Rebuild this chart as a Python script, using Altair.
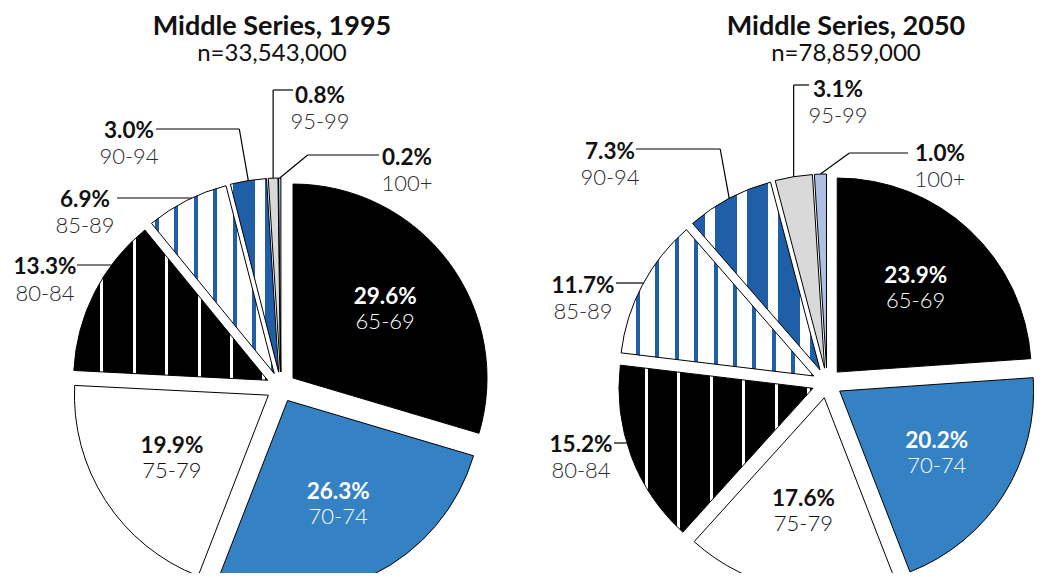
import math
import altair as alt
import pandas as pd

# ---------------- data ----------------
ages = ["65-69", "70-74", "75-79", "80-84", "85-89", "90-94", "95-99", "100+"]
pct_1995 = [29.6, 26.3, 19.9, 13.3, 6.9, 3.0, 0.8, 0.2]
pct_2050 = [23.9, 20.2, 17.6, 15.2, 11.7, 7.3, 3.1, 1.0]
years = ["1995", "2050"]
titles = ["Middle Series, 1995", "Middle Series, 2050"]
totals = ["n=33,543,000", "n=78,859,000"]

# ---------------- layout / style (chart pixels) ----------------
W_CHART, H_CHART = 1026, 565
R = 194          # pie radius
D = 15           # explosion distance
CX = {"1995": 273, "2050": 819}
CY = {"1995": 379, "2050": 375}
TITLE_X = {"1995": 264, "2050": 838}
LABEL_R = 130
FONT = "Lato"

solid_domain = ["65-69", "70-74", "75-79", "95-99", "100+"]
solid_range = ["#000000", "#3481c4", "#ffffff", "#d9d9d9", "#adbfe3"]
DARK_BLUE = "#1f5fa8"

inside_ages = ["65-69", "70-74", "75-79"]
inside_pct_colors = ["#ffffff", "#ffffff", "#111111"]
inside_age_colors = ["#d6d6d6", "#e2ebf5", "#2a2a2a"]

# callout placement (page coords): type, text centre x, pct y, age y, leader y, leader end x, elbow dx
callout_layout = [
    ("1995", "80-84", "h", 45, 267, 294, 265, 77, 0),
    ("1995", "85-89", "h", 85, 200, 226, 198, 117, 0),
    ("1995", "90-94", "v", 129, 131, 157, 129, 156, -9),
    ("1995", "95-99", "v", 320, 96, 122, 90, 293, 0),
    ("1995", "100+", "v", 407, 158, 184, 155, 379, 28),
    ("2050", "80-84", "h", 581, 445, 471, 443, 614, 0),
    ("2050", "85-89", "h", 583, 286, 312, 283, 616, 0),
    ("2050", "90-94", "v", 610, 152, 178, 149, 636, -9),
    ("2050", "95-99", "v", 838, 90, 116, 85, 809, 0),
    ("2050", "100+", "v", 940, 154, 180, 153, 908, 29),
]
OFF = 8
callout_values = [
    {"key": f"{y}|{a}", "ctype": t, "tx": tx - OFF, "py": py - OFF, "ay": ay - OFF,
     "lyy": ly - OFF, "lend": le - OFF, "edx": ed}
    for (y, a, t, tx, py, ay, ly, le, ed) in callout_layout
]

# stripe patterns: (bg, fg, period, line width, anchor x per pie in page coords)
stripe_styles = {
    "80-84": ("#000000", "#ffffff", 32.4, 3.0, {"1995": 68, "2050": 645}),
    "85-89": ("#ffffff", DARK_BLUE, 19.4, 4.0, {"1995": 155, "2050": 636}),
    "90-94": (DARK_BLUE, "#ffffff", 31.7, 10.0, {"1995": 223, "2050": 705}),
}

# ---------------- table ----------------
rows = []
for y, vals in zip(years, [pct_1995, pct_2050]):
    for i, (a, v) in enumerate(zip(ages, vals)):
        rows.append({"year": y, "age": a, "order": i, "pct": v, "key": f"{y}|{a}"})
df = pd.DataFrame(rows)
title_df = pd.DataFrame({"year": years, "title": titles, "total": totals})


def sector_xbounds(vals, idx):
    """x-extent (relative to apex) of a sector, for gradient placement."""
    start = sum(vals[:idx]) / 100 * 360
    end = start + vals[idx] / 100 * 360
    xs = [0.0, math.sin(math.radians(start)), math.sin(math.radians(end))]
    for q in (90, 270):
        if start < q < end:
            xs.append(math.sin(math.radians(q)))
    mid = math.radians((start + end) / 2)
    return min(xs) * R, max(xs) * R, mid


def stripe_gradient(year, vals, idx, style):
    bg, fg, period, lw, anchors = style
    lo, hi, mid = sector_xbounds(vals, idx)
    apex_x = CX[year] + D * math.sin(mid)
    left = apex_x + lo
    width = hi - lo
    x0 = anchors[year] - OFF
    stops = [{"offset": 0, "color": bg}]
    k = math.floor((left - x0) / period) - 1
    while True:
        s = x0 + k * period
        if s > left + width:
            break
        a = (s - left) / width
        b = (s + lw - left) / width
        k += 1
        if b <= 0 or a >= 1:
            continue
        a = max(a, 0.0)
        b = min(b, 1.0)
        stops += [{"offset": a, "color": bg}, {"offset": a, "color": fg},
                  {"offset": b, "color": fg}, {"offset": b, "color": bg}]
    stops.append({"offset": 1, "color": bg})
    return {"gradient": "linear", "x1": 0, "y1": 0, "x2": 1, "y2": 0, "stops": stops}


# ---------------- geometry via Vega-Lite transforms ----------------
base = (
    alt.Chart(df)
    .transform_window(cum="sum(pct)", sort=[alt.SortField("order")], groupby=["year"], frame=[None, 0])
    .transform_calculate(
        t0="(datum.cum - datum.pct) / 100 * 2 * PI",
        t1="datum.cum / 100 * 2 * PI",
    )
    .transform_calculate(mid="(datum.t0 + datum.t1) / 2")
    .transform_calculate(
        cx=f"datum.year == '1995' ? {CX['1995']} : {CX['2050']}",
        cy=f"datum.year == '1995' ? {CY['1995']} : {CY['2050']}",
    )
    .transform_calculate(
        sx=f"datum.cx + {D} * sin(datum.mid)",
        sy=f"datum.cy - {D} * cos(datum.mid)",
        lx=f"datum.cx + {LABEL_R} * sin(datum.mid)",
        lyc=f"datum.cy - {LABEL_R} * cos(datum.mid)",
        pct_text="format(datum.pct, '.1f') + '%'",
    )
    .transform_calculate(
        ox=f"datum.sx + {R} * sin(datum.mid)",
        oy=f"datum.sy - {R} * cos(datum.mid)",
    )
)

X = lambda f: alt.X(f"{f}:Q", scale=None, axis=None)
Y = lambda f: alt.Y(f"{f}:Q", scale=None, axis=None)
X2 = lambda f: alt.X2(f"{f}:Q")
Y2 = lambda f: alt.Y2(f"{f}:Q")

arc_enc = dict(
    x=X("sx"), y=Y("sy"),
    theta=alt.Theta("t0:Q", scale=None), theta2=alt.Theta2("t1:Q"),
)

solid = base.transform_filter(alt.FieldOneOfPredicate(field="age", oneOf=solid_domain)).mark_arc(
    radius=R, stroke="#000000", strokeWidth=1
).encode(
    fill=alt.Fill("age:N", scale=alt.Scale(domain=solid_domain, range=solid_range), legend=None),
    **arc_enc,
)

layers = [solid]
for y, vals in zip(years, [pct_1995, pct_2050]):
    for a, style in stripe_styles.items():
        idx = ages.index(a)
        grad = stripe_gradient(y, vals, idx, style)
        layers.append(
            base.transform_filter(f"datum.year == '{y}' && datum.age == '{a}'")
            .mark_arc(radius=R, stroke="#000000", strokeWidth=1, fill=grad)
            .encode(**arc_enc)
        )

PCT_SIZE = 22.5
AGE_SIZE = 22

inside = base.transform_filter(alt.FieldOneOfPredicate(field="age", oneOf=inside_ages))
layers.append(
    inside.mark_text(font=FONT, fontSize=PCT_SIZE, fontWeight="bold", baseline="middle", align="center", dy=-12)
    .encode(x=X("lx"), y=Y("lyc"), text="pct_text:N",
            color=alt.Color("age:N", scale=alt.Scale(domain=inside_ages, range=inside_pct_colors), legend=None))
)
layers.append(
    inside.mark_text(font=FONT, fontSize=AGE_SIZE, fontWeight=300, baseline="middle", align="center", dy=13)
    .encode(x=X("lx"), y=Y("lyc"), text="age:N",
            color=alt.Color("age:N", scale=alt.Scale(domain=inside_ages, range=inside_age_colors), legend=None))
)

callouts = (
    base.transform_lookup(
        lookup="key",
        from_=alt.LookupData(data=alt.InlineData(values=callout_values), key="key",
                             fields=["ctype", "tx", "py", "ay", "lyy", "lend", "edx"]),
    )
    .transform_filter("isValid(datum.ctype)")
    .transform_calculate(
        xarc=f"datum.sx - sqrt({R} * {R} - (datum.lyy - datum.sy) * (datum.lyy - datum.sy))",
    )
    .transform_calculate(
        ax="datum.ctype == 'h' ? datum.lend : datum.ox",
        ay1="datum.ctype == 'h' ? datum.lyy : datum.oy",
        ax2="datum.ctype == 'h' ? datum.xarc : datum.ox + datum.edx",
        ay2="datum.lyy",
        bx="datum.ox + datum.edx",
    )
)
layers.append(
    callouts.mark_rule(color="#000000", strokeWidth=1.2)
    .encode(x=X("ax"), y=Y("ay1"), x2=X2("ax2"), y2=Y2("ay2"))
)
layers.append(
    callouts.transform_filter("datum.ctype == 'v'").mark_rule(color="#000000", strokeWidth=1.2)
    .encode(x=X("bx"), y=Y("lyy"), x2=X2("lend"), y2=Y2("lyy"))
)
layers.append(
    callouts.mark_text(font=FONT, fontSize=PCT_SIZE, fontWeight="bold", baseline="middle", align="center", color="#111111")
    .encode(x=X("tx"), y=Y("py"), text="pct_text:N")
)
layers.append(
    callouts.mark_text(font=FONT, fontSize=AGE_SIZE, fontWeight=300, baseline="middle", align="center", color="#2a2a2a")
    .encode(x=X("tx"), y=Y("ay"), text="age:N")
)

tbase = alt.Chart(title_df).transform_calculate(
    tx=f"datum.year == '1995' ? {TITLE_X['1995']} : {TITLE_X['2050']}",
    ty1="27", ty2="53",
)
layers.append(
    tbase.mark_text(font=FONT, fontSize=27, fontWeight="bold", baseline="alphabetic", align="center", color="#111111")
    .encode(x=X("tx"), y=Y("ty1"), text="title:N")
)
layers.append(
    tbase.mark_text(font=FONT, fontSize=24, fontWeight="normal", baseline="alphabetic", align="center", color="#111111")
    .encode(x=X("tx"), y=Y("ty2"), text="total:N")
)

chart = (
    alt.layer(*layers)
    .properties(width=W_CHART, height=H_CHART, padding=0, autosize="none")
    .configure_view(stroke=None)
)

chart.save("out.html", embed_options={"renderer": "svg", "actions": False})
